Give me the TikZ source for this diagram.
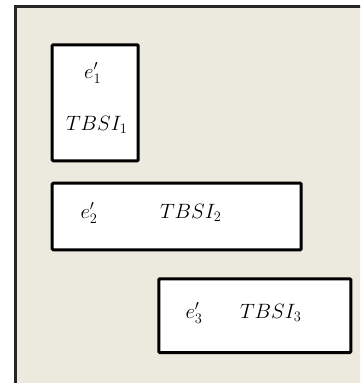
\documentclass[tikz,border=0pt]{standalone}
\usepackage{amsmath}
\definecolor{bgbeige}{HTML}{ECE9DF}
\tikzset{
  frame/.style={draw=black!85, line width=3pt, fill=bgbeige},
  blockbox/.style={draw=black, line width=3pt, fill=white, rounded corners=1pt},
  lbl/.style={inner sep=0pt, font=\fontsize{20}{24}\selectfont}
}
\begin{document}
\begin{tikzpicture}[x=1pt,y=-1pt]
\useasboundingbox (0,0) rectangle (360,383);
\clip (0,0) rectangle (360,383);
\fill[white] (0,0) rectangle (360,383);
\draw[frame] (15,6) rectangle (370,395);
\node[blockbox, minimum width=86pt, minimum height=116pt, anchor=north west, inner sep=0pt] (b1) at (50.7,43.3) {};
\node[blockbox, minimum width=249pt, minimum height=66.6pt, anchor=north west, inner sep=0pt] (b2) at (50.7,181.7) {};
\node[blockbox, minimum width=192pt, minimum height=73.7pt, anchor=north west, inner sep=0pt] (b3) at (157.3,277.3) {};
\node[lbl] (e1) at (92.7,73) {$e_1'$};
\node[lbl] (t1) at (96.7,125) {$TBSI_1$};
\node[lbl] (e2) at (89,213) {$e_2'$};
\node[lbl] (t2) at (190.7,213) {$TBSI_2$};
\node[lbl] (e3) at (194,313) {$e_3'$};
\node[lbl] (t3) at (270.7,313) {$TBSI_3$};
\end{tikzpicture}
\end{document}
